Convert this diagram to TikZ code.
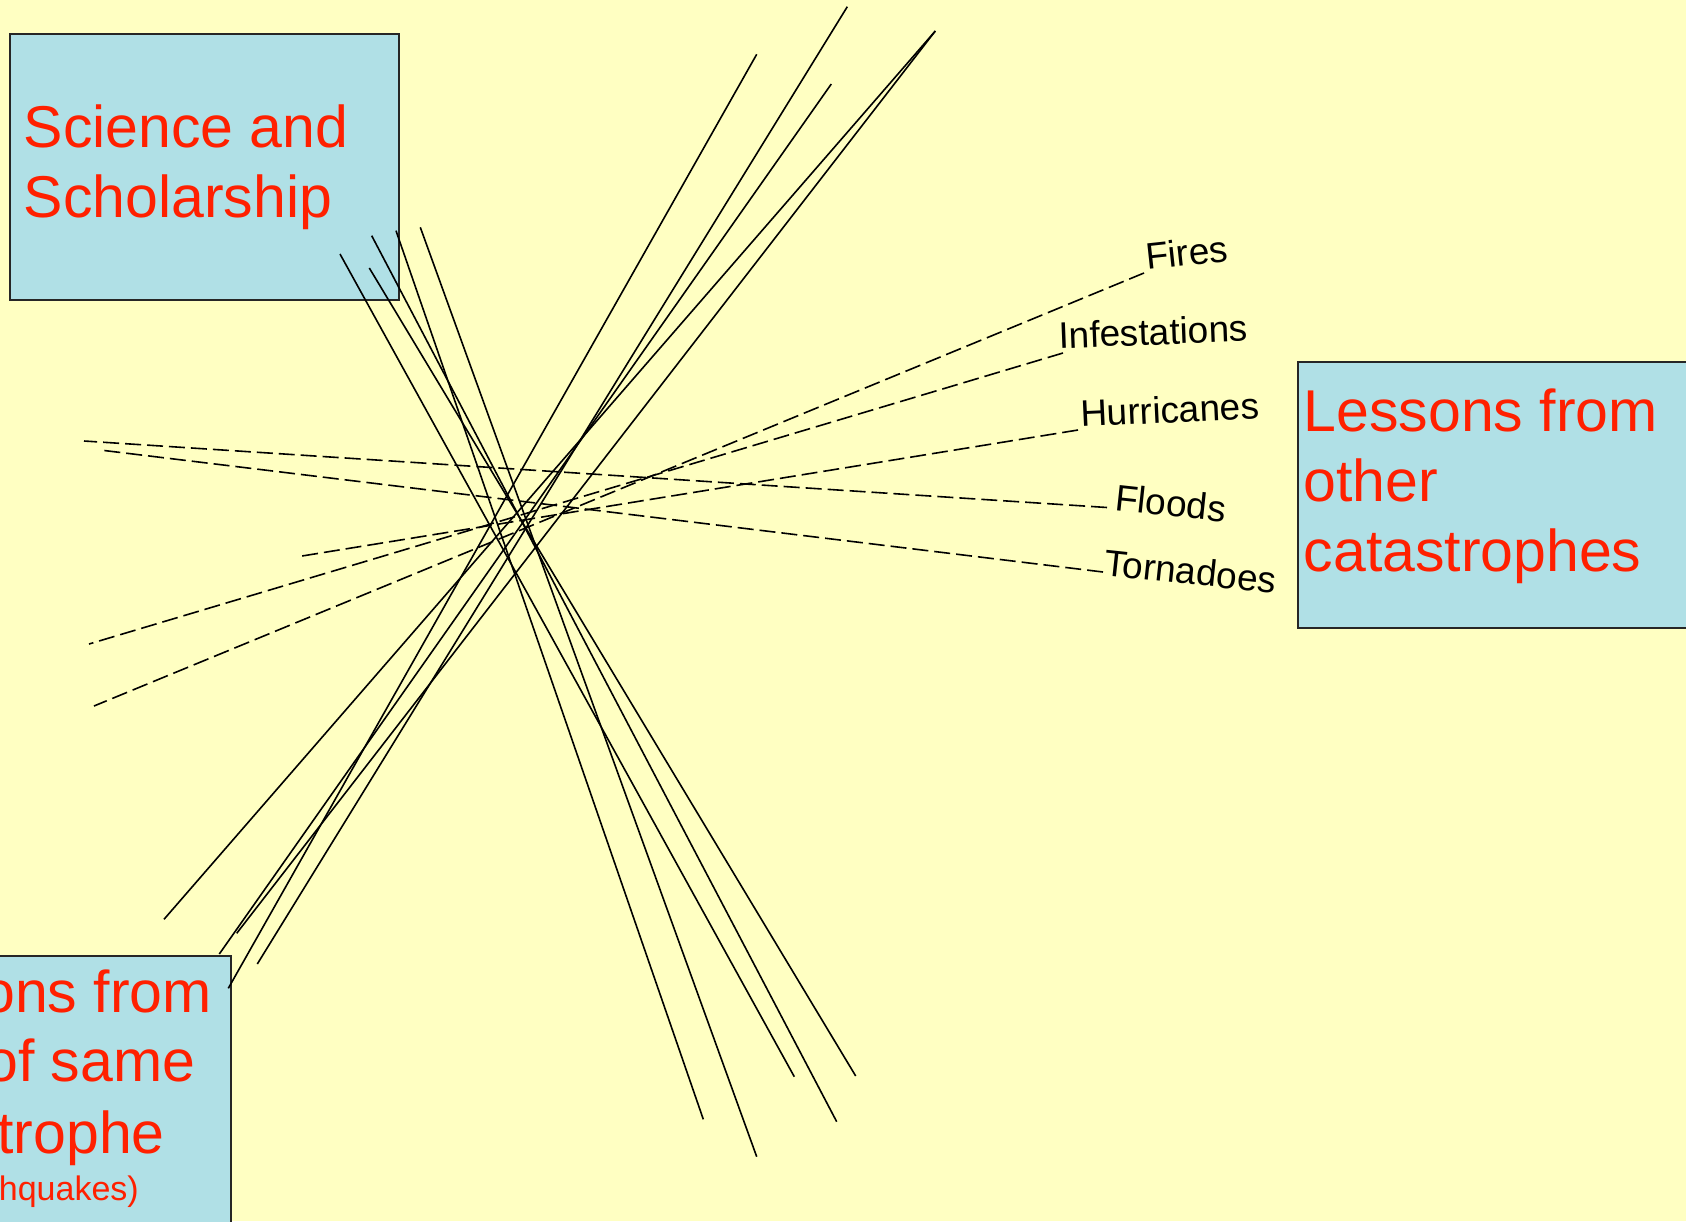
\documentclass[tikz,border=0pt]{standalone}
\usepackage{fontspec}
\setmainfont{Liberation Sans}
\definecolor{bgyellow}{RGB}{255,255,194}
\definecolor{boxblue}{RGB}{176,224,230}
\definecolor{boxred}{RGB}{255,32,0}
\begin{document}
\begin{tikzpicture}[x=1pt,y=-1pt,
  box/.style={draw=black!85, line width=2pt, fill=boxblue, rectangle, inner sep=0pt, outer sep=0pt, anchor=north west},
  bigtext/.style={text=boxred, font=\fontsize{59pt}{70pt}\selectfont, inner sep=0pt, anchor=base west},
  smalltext/.style={text=boxred, font=\fontsize{34pt}{40pt}\selectfont, inner sep=0pt},
  lbl/.style={font=\fontsize{37pt}{44pt}\selectfont, inner sep=0pt, anchor=base west},
  ray/.style={line width=1.6pt, black},
  dray/.style={line width=1.6pt, black, dash pattern=on 16pt off 6pt}]
\useasboundingbox (0,0) rectangle (1686,1221);
\fill[bgyellow] (0,0) rectangle (1686,1221);
\clip (0,0) rectangle (1686,1221);

% boxes
\node[box, minimum width=389pt, minimum height=266pt] (sci) at (10,34) {};
\node[box, minimum width=450pt, minimum height=266pt] (other) at (1297.5,362) {};
\node[box, minimum width=300pt, minimum height=350pt] (same) at (-69,955.7) {};

% box texts
\node[bigtext] (sciA) at (23.5,147) {Science and};
\node[bigtext] (sciB) at (23.5,217) {Scholarship};
\node[bigtext] (othA) at (1303.5,431.7) {Lessons from};
\node[bigtext] (othB) at (1303.5,501.7) {other};
\node[bigtext] (othC) at (1303.5,571.7) {catastrophes};
\node[bigtext, anchor=base east] (samA) at (212,1012.7) {ons from};
\node[bigtext, anchor=base east] (samB) at (195.5,1081.7) {of same};
\node[bigtext, anchor=base east] (samC) at (165,1153.3) {trophe};
\node[smalltext, anchor=base east] (samD) at (139,1200) {hquakes)};

% solid rays: from Science box down to the right
\coordinate (t1) at (340,254);    \coordinate (c1) at (794.3,1076.7);
\coordinate (t2) at (371.7,235.7);\coordinate (c2) at (836.7,1121.7);
\coordinate (t3) at (369.3,268);  \coordinate (c3) at (855.7,1076);
\coordinate (t4) at (396,230.7);  \coordinate (c4) at (703.3,1119.3);
\coordinate (t5) at (420.3,227.3);\coordinate (c5) at (756.7,1156.7);
\draw[ray] (t1) -- (c1);
\draw[ray] (t2) -- (c2);
\draw[ray] (t3) -- (c3);
\draw[ray] (t4) -- (c4);
\draw[ray] (t5) -- (c5);

% solid rays: from top right down to the lower-left box
\coordinate (p1) at (756.7,54.3); \coordinate (q1) at (228.3,988.3);
\coordinate (p2) at (847.3,6.7);  \coordinate (q2) at (257.3,964);
\coordinate (p3) at (831.3,84);   \coordinate (q3) at (219.3,954);
\coordinate (p4) at (935.3,31);   \coordinate (q4) at (164,919.3);
\coordinate (q5) at (236.7,933.3);
\draw[ray] (p1) -- (q1);
\draw[ray] (p2) -- (q2);
\draw[ray] (p3) -- (q3);
\draw[ray] (p4) -- (q4);
\draw[ray] (p4) -- (q5);

% labels
\node[lbl, rotate=6.2] (fires) at (1147,270) {Fires};
\node[lbl, rotate=2.2] (infest) at (1059,348.5) {Infestations};
\node[lbl, rotate=2.7] (hurr) at (1081,427) {Hurricanes};
\node[lbl, rotate=-6.2] (flood) at (1114,510) {Floods};
\node[lbl, rotate=-6.1] (torn) at (1103,575) {Tornadoes};

% dashed rays
\coordinate (fe) at (1144,273);   \coordinate (fo) at (94,706);
\coordinate (ie) at (1063,353);   \coordinate (io) at (89,644);
\coordinate (he) at (1078,430);   \coordinate (ho) at (302,556);
\coordinate (de) at (1107,507.5); \coordinate (do) at (84,441);
\coordinate (te) at (1103,572);   \coordinate (to) at (100,450);
\draw[dray] (fe) -- (fo);
\draw[dray] (ie) -- (io);
\draw[dray] (he) -- (ho);
\draw[dray] (de) -- (do);
\draw[dray] (te) -- (to);
\end{tikzpicture}
\end{document}
